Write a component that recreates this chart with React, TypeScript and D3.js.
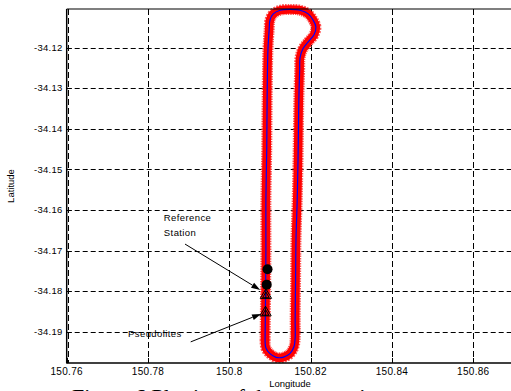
import React from 'react';
import * as d3 from 'd3';

const lonTicks = [150.76, 150.78, 150.8, 150.82, 150.84, 150.86];
const lonTickLabels = ['150.76', '150.78', '150.8', '150.82', '150.84', '150.86'];
const latTicks = [-34.12, -34.13, -34.14, -34.15, -34.16, -34.17, -34.18, -34.19];
const latTickLabels = ['-34.12', '-34.13', '-34.14', '-34.15', '-34.16', '-34.17', '-34.18', '-34.19'];

const trackLon = [
  150.8088, 150.8089, 150.809, 150.809, 150.8092, 150.8093, 150.8095, 150.8098, 150.81,
  150.8108, 150.8125, 150.8149, 150.8174, 150.8194, 150.8206, 150.8213, 150.8208, 150.8194,
  150.8181, 150.8174, 150.8173, 150.8171, 150.817, 150.8169, 150.8167, 150.8164, 150.8163,
  150.8162, 150.8162, 150.8159, 150.8149, 150.8132, 150.8115, 150.81, 150.809, 150.8088,
];
const trackLat = [
  -34.192, -34.1821, -34.1698, -34.1575, -34.1452, -34.1329, -34.1206, -34.1156, -34.1132,
  -34.1117, -34.1108, -34.1106, -34.1108, -34.1117, -34.1132, -34.1149, -34.1169, -34.1186,
  -34.1203, -34.1225, -34.1255, -34.1329, -34.1403, -34.1477, -34.1575, -34.1674, -34.1772,
  -34.1871, -34.1915, -34.1937, -34.1954, -34.1963, -34.1963, -34.1954, -34.194, -34.192,
];

const refLon = [150.8094, 150.8092];
const refLat = [-34.1746, -34.1784];
const pseudoLon = [150.809, 150.8089];
const pseudoLat = [-34.1809, -34.1852];

const refLabelLines = ['Reference', 'Station'];
const refLabelLon = 150.7839;
const refLabelLat = [-34.1627, -34.1664];
const refArrowLon = [150.7891, 150.8076];
const refArrowLat = [-34.1684, -34.1797];
const pseudoLabel = 'Pseudolites';
const pseudoLabelLon = 150.7751;
const pseudoLabelLat = -34.1913;
const pseudoArrowLon = [150.7905, 150.8078];
const pseudoArrowLat = [-34.1925, -34.1856];

const caption = 'Figure 6 Plotting of the flight trajectory';

export default function App() {
  const W = 511;
  const H = 391;
  const left = 66.7;
  const top = 9;
  const bottom = 363;
  const x = d3.scaleLinear().domain([150.76, 150.87]).range([left, 513.9]);
  const y = d3.scaleLinear().domain([-34.1977, -34.1105]).range([bottom, top]);
  const font = 'Liberation Sans, Arial, Helvetica, sans-serif';
  const snap = (v: number) => Math.round(v) + 0.5;

  const pts: [number, number][] = trackLon.map((lo, i) => [x(lo), y(trackLat[i])]);
  const line = d3.line().curve(d3.curveCatmullRom.alpha(0.5));
  const pathD = line(pts) || '';

  const tri = (cx: number, cy: number, r: number) =>
    `M${cx},${cy - r}L${cx + r * 0.95},${cy + r * 0.6}L${cx - r * 0.95},${cy + r * 0.6}Z`;

  const arrow = (x1: number, y1: number, x2: number, y2: number, key: string) => {
    const ang = Math.atan2(y2 - y1, x2 - x1);
    const L = 9;
    const wdt = 3;
    const bx = x2 - L * Math.cos(ang);
    const by = y2 - L * Math.sin(ang);
    const px = -Math.sin(ang) * wdt;
    const py = Math.cos(ang) * wdt;
    return (
      <g key={key}>
        <line x1={x1} y1={y1} x2={bx} y2={by} stroke="#000" strokeWidth={1} />
        <path d={`M${x2},${y2}L${bx + px},${by + py}L${bx - px},${by - py}Z`} fill="#000" />
      </g>
    );
  };

  return (
    <svg
      width={W}
      height={H}
      style={{ position: 'absolute', left: 0, top: 0, background: '#fff' }}
    >
      <rect x={0} y={0} width={W} height={H} fill="#fff" />
      {/* caption (partially cut) */}
      <text x={72} y={404} fontFamily="Liberation Serif, Times New Roman, serif" fontSize={22} fill="#000">
        {caption}
      </text>
      {/* grid */}
      {latTicks.map((t, i) => (
        <line key={'gy' + i} x1={left} x2={W} y1={snap(y(t))} y2={snap(y(t))} stroke="#000" strokeWidth={1} strokeDasharray="5,3" />
      ))}
      {lonTicks.map((t, i) => (
        <line key={'gx' + i} x1={snap(x(t) + (i === 0 ? 1.5 : 0))} x2={snap(x(t) + (i === 0 ? 1.5 : 0))} y1={top} y2={bottom} stroke="#000" strokeWidth={1} strokeDasharray="6,3" />
      ))}
      {/* track */}
      <path d={pathD} fill="none" stroke="#ff5555" strokeWidth={11} strokeLinejoin="round" strokeDasharray="1.5,1" />
      <path d={pathD} fill="none" stroke="#ff0000" strokeWidth={8.5} strokeLinejoin="round" />
      <path d={pathD} fill="none" stroke="#0000ff" strokeWidth={1.2} strokeLinejoin="round" />
      {/* reference station */}
      {refLon.map((lo, i) => (
        <circle key={'rs' + i} cx={x(lo)} cy={y(refLat[i])} r={5} fill="#000" />
      ))}
      {/* pseudolites */}
      {pseudoLon.map((lo, i) => (
        <g key={'ps' + i}>
          <path d={tri(x(lo), y(pseudoLat[i]), 6)} fill="none" stroke="#000" strokeWidth={1} />
          <path d={tri(x(lo), y(pseudoLat[i]) + 0.8, 3.5)} fill="none" stroke="#000" strokeWidth={1} />
          <line x1={x(lo)} x2={x(lo)} y1={y(pseudoLat[i]) - 5} y2={y(pseudoLat[i]) + 3.6} stroke="#000" strokeWidth={0.8} />
        </g>
      ))}
      {/* annotations */}
      {refLabelLines.map((s, i) => (
        <text key={'rl' + i} x={x(refLabelLon)} y={y(refLabelLat[i])} fontFamily={font} fontSize={9.5} letterSpacing={0.4} fill="#000">
          {s}
        </text>
      ))}
      {arrow(x(refArrowLon[0]), y(refArrowLat[0]), x(refArrowLon[1]), y(refArrowLat[1]), 'a1')}
      <text x={x(pseudoLabelLon)} y={y(pseudoLabelLat)} fontFamily={font} fontSize={9.5} letterSpacing={0.4} fill="#000">
        {pseudoLabel}
      </text>
      {arrow(x(pseudoArrowLon[0]), y(pseudoArrowLat[0]), x(pseudoArrowLon[1]), y(pseudoArrowLat[1]), 'a2')}
      {/* axes */}
      <line x1={left} x2={W} y1={top} y2={top} stroke="#000" strokeWidth={1.2} />
      <line x1={left} x2={left} y1={top} y2={bottom + 0.6} stroke="#000" strokeWidth={1.5} />
      <line x1={left} x2={W} y1={bottom} y2={bottom} stroke="#000" strokeWidth={1.5} />
      {latTicks.map((t, i) => (
        <g key={'ty' + i}>
          <line x1={left} x2={left + 5} y1={snap(y(t))} y2={snap(y(t))} stroke="#000" strokeWidth={1} />
          <text x={left - 4} y={y(t)} dy="0.35em" textAnchor="end" fontFamily={font} fontSize={9.5} letterSpacing={0.3} fill="#000">
            {latTickLabels[i]}
          </text>
        </g>
      ))}
      {lonTicks.map((t, i) => (
        <g key={'tx' + i}>
          <line x1={snap(x(t))} x2={snap(x(t))} y1={bottom} y2={bottom - 5} stroke="#000" strokeWidth={1} />
          <text x={x(t)} y={375} textAnchor="middle" fontFamily={font} fontSize={10} letterSpacing={0.3} fill="#000">
            {lonTickLabels[i]}
          </text>
        </g>
      ))}
      {/* axis titles */}
      <rect x={262} y={378} width={56} height={13} fill="#fff" />
      <text x={290} y={387} textAnchor="middle" fontFamily={font} fontSize={9.5} fill="#000">
        Longitude
      </text>
      <text
        transform={`translate(14,${(top + bottom) / 2}) rotate(-90)`}
        textAnchor="middle"
        fontFamily={font}
        fontSize={9.5}
        fill="#000"
      >
        Latitude
      </text>
    </svg>
  );
}
